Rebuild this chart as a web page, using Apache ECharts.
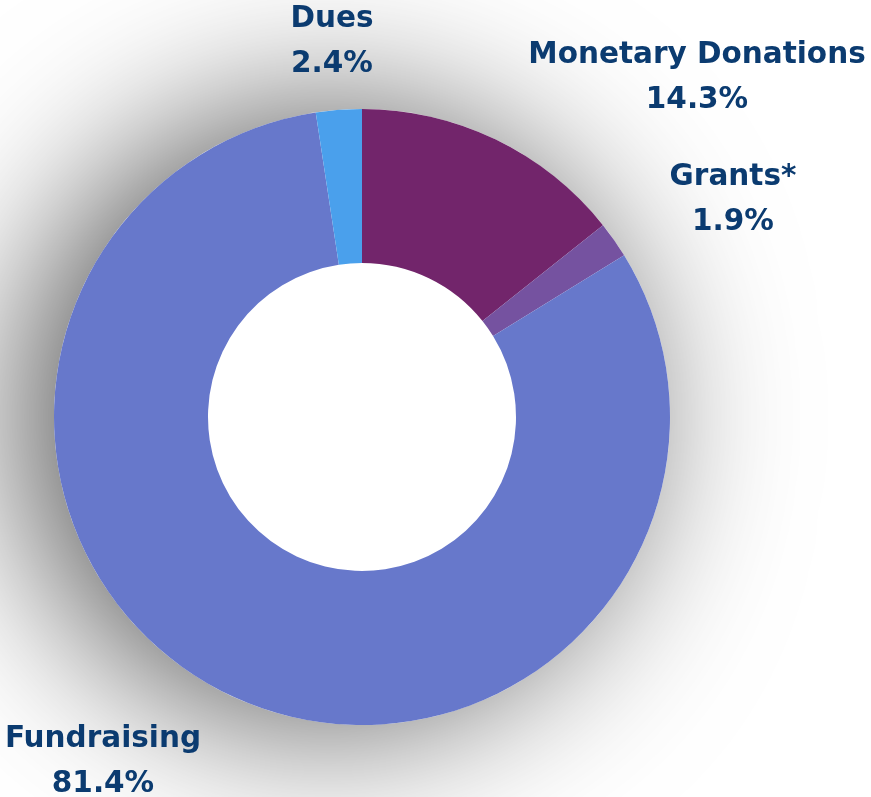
<!DOCTYPE html>
<html>
<head>
<meta charset="utf-8">
<script src="https://cdn.jsdelivr.net/npm/echarts@6/dist/echarts.min.js"></script>
<style>
  html, body { margin: 0; padding: 0; background: #fff; }
  #chart { width: 871px; height: 797px; }
</style>
</head>
<body>
<div id="chart"></div>
<script>
// Revenue sources, clockwise from 12 o'clock
const categories = ['Monetary Donations', 'Grants*', 'Fundraising', 'Dues'];
const shares = [14.3, 1.9, 81.4, 2.4];
const colors = ['#72256b', '#7552a0', '#6778cb', '#4aa0ec'];

// where each label block sits (centre point)
const labelSpots = [[697, 78], [733, 200], [103, 762], [332, 42]];

const chart = echarts.init(document.getElementById('chart'));

const pieData = categories.map((name, i) => ({
  name: name,
  value: shares[i],
  itemStyle: { color: colors[i] }
}));

chart.setOption({
  animation: false,
  series: [
    {
      // backing disc that carries the soft drop shadow
      type: 'pie',
      silent: true,
      center: [362, 417],
      radius: [0, 308],
      label: { show: false },
      labelLine: { show: false },
      itemStyle: {
        color: '#ffffff',
        shadowBlur: 165,
        shadowColor: 'rgba(0,0,0,0.66)',
        shadowOffsetX: -34,
        shadowOffsetY: 0
      },
      data: [{ name: 'bg', value: 1 }]
    },
    {
      type: 'pie',
      center: [362, 417],
      radius: [154, 308],
      startAngle: 90,
      clockwise: true,
      labelLine: { show: false },
      label: {
        show: true,
        position: 'outside',
        formatter: p => p.name + '\n' + p.value.toFixed(1) + '%',
        fontFamily: 'DejaVu Sans',
        fontWeight: 'bold',
        fontSize: 29.5,
        lineHeight: 45,
        color: '#0b3b70',
        align: 'center',
        width: 400,
        overflow: 'none'
      },
      labelLayout: params => ({
        x: labelSpots[params.dataIndex][0],
        y: labelSpots[params.dataIndex][1],
        align: 'center',
        verticalAlign: 'middle',
        hideOverlap: false
      }),
      data: pieData
    }
  ]
});
</script>
</body>
</html>
